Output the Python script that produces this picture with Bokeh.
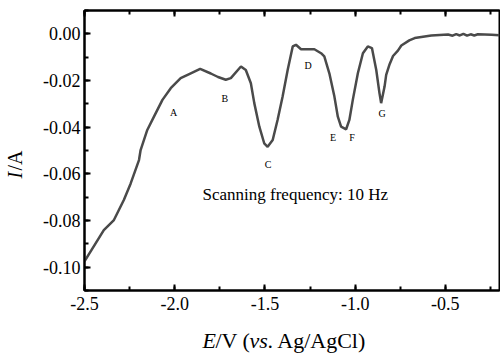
from math import pi
from bokeh.plotting import figure
from bokeh.layouts import row, column
from bokeh.models import (Label, LinearAxis, SingleIntervalTicker, NumeralTickFormatter,
                          Range1d, ColumnDataSource)
from bokeh.core.properties import value
from bokeh.embed import file_html
from bokeh.resources import INLINE

# ---- data ----
potential = [-2.5, -2.393, -2.337, -2.282, -2.244, -2.198, -2.189, -2.152, -2.115, -2.068,
             -2.022, -1.967, -1.911, -1.859, -1.8, -1.76, -1.717, -1.689, -1.633, -1.606,
             -1.578, -1.559, -1.531, -1.504, -1.485, -1.457, -1.43, -1.402, -1.374, -1.346,
             -1.328, -1.3, -1.226, -1.189, -1.171, -1.143, -1.115, -1.096, -1.078, -1.05,
             -1.032, -1.013, -0.985, -0.957, -0.93, -0.907, -0.883, -0.865, -0.856, -0.837,
             -0.828, -0.809, -0.79, -0.763, -0.744, -0.70, -0.67, -0.578, -0.485, -0.46,
             -0.44, -0.42, -0.40, -0.38, -0.36, -0.34, -0.32, -0.244, -0.2]
current = [-0.0975, -0.0841, -0.0798, -0.0712, -0.0641, -0.0541, -0.0498, -0.0412, -0.0355, -0.0283,
           -0.0233, -0.0190, -0.0169, -0.0150, -0.0170, -0.0185, -0.0197, -0.0190, -0.0140, -0.0155,
           -0.0212, -0.0297, -0.0398, -0.0469, -0.0484, -0.0455, -0.0369, -0.0269, -0.0155, -0.0054,
           -0.0047, -0.0066, -0.0066, -0.0083, -0.0097, -0.0169, -0.0269, -0.0355, -0.0398, -0.0409,
           -0.0369, -0.0283, -0.0169, -0.0083, -0.0054, -0.0061, -0.0155, -0.0255, -0.0297, -0.0226,
           -0.0176, -0.0130, -0.0095, -0.0072, -0.0050, -0.0028, -0.0018, -0.0007, -0.0003, -0.0008,
           -0.0001, -0.0007, 0.0000, -0.0008, -0.0002, -0.0007, -0.0002, -0.0004, -0.0006]

peak_names = ["A", "B", "C", "D", "E", "F", "G"]
peak_E = [-2.006, -1.722, -1.483, -1.261, -1.122, -1.017, -0.85]
peak_I = [-0.0335, -0.0275, -0.0562, -0.0137, -0.0446, -0.0446, -0.0343]

x_ticks_interval = 0.5
y_ticks_interval = 0.02
XR = (-2.5, -0.2)
YR = (-0.11, 0.01)
note = "Scanning frequency: 10 Hz"

FONT = "Liberation Serif"

# ---- layout geometry (pixels) ----
W, H = 500, 353
YLAB_W = 30            # strip on the left holding the rotated y label
XLAB_H = 28            # strip at the bottom holding the x label
MAIN_W, MAIN_H = W - YLAB_W, H - XLAB_H
FL, FR, FT, FB = 54, 1, 10, 35
FW, FH = MAIN_W - FL - FR, MAIN_H - FT - FB
FRAME_X0 = YLAB_W + FL   # frame left edge on the page


def dx(px):
    return XR[0] + (px - FRAME_X0) / FW * (XR[1] - XR[0])


def dy(py):
    return YR[1] - (py - FT) / FH * (YR[1] - YR[0])


p = figure(width=MAIN_W, height=MAIN_H, x_range=Range1d(*XR), y_range=Range1d(*YR),
           output_backend="svg", toolbar_location=None,
           min_border_left=FL, min_border_right=FR, min_border_top=FT, min_border_bottom=FB)
p.grid.visible = False
p.background_fill_color = "white"
p.border_fill_color = "white"
p.outline_line_color = "black"
p.outline_line_width = 2

src = ColumnDataSource(dict(x=potential, y=current))
p.line("x", "y", source=src, line_color="#4a4a4a", line_width=2.5)


def style_axis(ax, interval, fmt, minor, show_labels=True, standoff=4):
    ax.ticker = SingleIntervalTicker(interval=interval, num_minor_ticks=minor)
    ax.formatter = NumeralTickFormatter(format=fmt)
    ax.axis_line_width = 2
    ax.axis_line_color = "black"
    ax.major_tick_line_width = 2
    ax.minor_tick_line_width = 2
    ax.major_tick_in = 6
    ax.major_tick_out = 0
    ax.minor_tick_in = 4
    ax.minor_tick_out = 0
    ax.major_label_standoff = standoff
    ax.major_label_text_font = FONT
    ax.major_label_text_font_size = "18px" if show_labels else "0px"
    ax.major_label_text_color = "black" if show_labels else None
    ax.axis_label = None


style_axis(p.xaxis[0], x_ticks_interval, "0.0", 2, standoff=6)
style_axis(p.yaxis[0], y_ticks_interval, "0.00", 2, standoff=4)

top = LinearAxis()
style_axis(top, x_ticks_interval, "0.0", 2, show_labels=False, standoff=0)
p.add_layout(top, "above")

# peak letters
for n, e, i in zip(peak_names, peak_E, peak_I):
    p.add_layout(Label(x=e, y=i, text=n, text_font=FONT, text_font_size="10px",
                       text_align="center", text_baseline="middle", text_color="black"))

p.add_layout(Label(x=dx(202), y=dy(194), text=note, text_font=FONT, text_font_size="17px",
                   text_align="left", text_baseline="middle", text_color="black"))


def strip(width, height, xr, yr, bl, br, bt, bb):
    f = figure(width=width, height=height, x_range=Range1d(*xr), y_range=Range1d(*yr),
               output_backend="svg", toolbar_location=None, x_axis_type=None, y_axis_type=None,
               min_border=0, min_border_left=bl, min_border_right=br,
               min_border_top=bt, min_border_bottom=bb)
    f.grid.visible = False
    f.outline_line_color = None
    f.background_fill_color = "white"
    f.border_fill_color = "white"
    return f


# x axis label strip (frame lined up with the main frame): "E/V (vs. Ag/AgCl)"
xl = strip(MAIN_W, XLAB_H, XR, (0, XLAB_H), FL, FR, 0, 0)
xparts = [("E", "italic", 202), ("/V (", "normal", 215), ("vs", "italic", 249),
          (". Ag/AgCl)", "normal", 267)]
mid_y = XLAB_H - (340 - MAIN_H)
for t, st, px in xparts:
    xl.text(x=[dx(px)], y=[mid_y], text=[t], text_font=value(FONT),
            text_font_size="22px", text_font_style=st, text_align="left",
            text_baseline="middle", text_color="black")

# y axis label strip (frame lined up vertically with the main frame): rotated "I/A"
yl = strip(YLAB_W, H, (0, YLAB_W), YR, 0, 0, FT, H - FT - FH)
yl.text(x=[14], y=[dy(178)], text=["I"], text_font=value(FONT), text_font_size="20px",
        text_font_style="italic", angle=pi / 2, text_align="left",
        text_baseline="middle", text_color="black")
yl.text(x=[14], y=[dy(170)], text=["/A"], text_font=value(FONT), text_font_size="20px",
        angle=pi / 2, text_align="left", text_baseline="middle", text_color="black")

layout = row(yl, column(p, xl, spacing=0), spacing=0)

open("out.html", "w").write(file_html(layout, INLINE))
